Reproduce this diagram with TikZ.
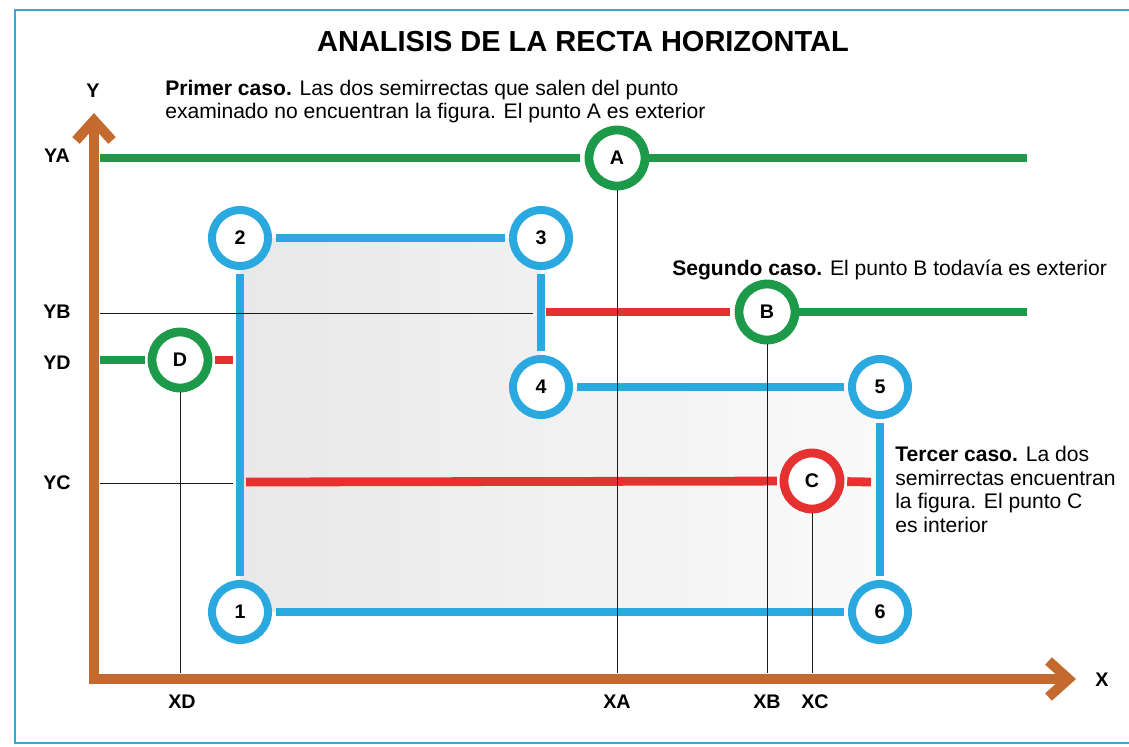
\documentclass[tikz,border=0pt]{standalone}
\usepackage{fontspec}
\setmainfont{Liberation Sans}
\usetikzlibrary{arrows.meta}
\definecolor{ink}{HTML}{1A1A1A}
\definecolor{framec}{HTML}{3AA6DC}
\definecolor{sideblue}{HTML}{2AA8E0}
\definecolor{outgreen}{HTML}{1C9A4A}
\definecolor{inred}{HTML}{E5312F}
\definecolor{axisc}{HTML}{C46A2E}

\begin{document}
\begin{tikzpicture}[x=0.025cm,y=-0.025cm,font=\fontsize{15}{16.6}\selectfont,
  vtx/.style={circle,draw=sideblue,line width=0.2cm,fill=white,minimum size=1.4cm,
              inner sep=0pt,font=\bfseries\fontsize{14}{14}\selectfont},
  ptout/.style={vtx,draw=outgreen,line width=0.22cm},
  ptin/.style={vtx,draw=inred,line width=0.22cm},
  side/.style={draw=sideblue,line width=0.2cm,shorten <=0.1cm,shorten >=0.1cm},
  rayout/.style={draw=outgreen,line width=0.22cm},
  rayin/.style={draw=inred,line width=0.22cm},
  guide/.style={draw=ink,line width=0.6pt},
  lbl/.style={font=\bfseries\fontsize{14}{14}\selectfont},
  axis/.style={draw=axisc,line width=0.25cm,line join=miter,
    {Straight Barb[length=5mm,width=9mm]}-{Straight Barb[length=5mm,width=9mm]}}]
  \useasboundingbox (0,0) rectangle (1129,746);
  \draw[framec,line width=1.2pt] (1129,10) -- (15,10) -- (15,743) -- (1129,743);

  \node[font=\bfseries\fontsize{20.6}{20.6}\selectfont] (title) at (583,42) {ANALISIS DE LA RECTA HORIZONTAL};

  % figure corners
  \coordinate (p1) at (240,612);
  \coordinate (p2) at (240,238);
  \coordinate (p3) at (541,238);
  \coordinate (p4) at (541,387);
  \coordinate (p5) at (880,387);
  \coordinate (p6) at (880,612);
  \shade[left color=black!9,right color=black!2] (p1) -- (p2) -- (p3) -- (p4) -- (p5) -- (p6) -- cycle;

  % axes
  \coordinate (o) at (94,679);
  \coordinate (ytip) at (94,113);
  \coordinate (xtip) at (1076,679);
  \draw[axis] (ytip) -- (o) -- (xtip);
  \node[lbl] (ylab) at (93,91) {Y};
  \node[lbl] (xlab) at (1102,680) {X};

  % the figure
  \foreach \i in {1,...,6}{
     \node[vtx] (v\i) at (p\i) {\i};
  }
  \draw[side] (v1) -- (v2);
  \draw[side] (v2) -- (v3);
  \draw[side] (v3) -- (v4);
  \draw[side] (v4) -- (v5);
  \draw[side] (v5) -- (v6);
  \draw[side] (v6) -- (v1);

  % examined points
  \node[ptout] (A) at (617,158) {A};
  \node[ptout] (B) at (767,312) {B};
  \node[ptin]  (C) at (812,481) {C};
  \node[ptout] (D) at (180,360) {D};

  \coordinate (a0) at (100,158);  \coordinate (a1) at (1027,158);
  \draw[rayout,shorten >=3pt] (a0) -- (A);
  \draw[rayout] (A) -- (a1);
  \coordinate (b0) at (546,312);  \coordinate (b1) at (1027,312);
  \draw[rayin,shorten >=3pt] (b0) -- (B);
  \draw[rayout] (B) -- (b1);
  \coordinate (c0) at (246,482);  \coordinate (c1) at (871,482);
  \draw[rayin,shorten >=2pt] (c0) -- (C);
  \draw[rayin,shorten <=2pt] (C) -- (c1);
  \coordinate (d0) at (100,360);  \coordinate (d1) at (233,360);
  \draw[rayout,shorten >=2pt] (d0) -- (D);
  \draw[rayin,shorten <=2pt] (D) -- (d1);

  % coordinates of the points
  \node[lbl] (ya) at (57,156) {YA};
  \node[lbl] (yb) at (57,312) {YB};
  \node[lbl] (yd) at (57,363) {YD};
  \node[lbl] (yc) at (57,483) {YC};
  \node[lbl] (xd) at (182,702) {XD};
  \node[lbl] (xa) at (617,702) {XA};
  \node[lbl] (xb) at (767,702) {XB};
  \node[lbl] (xc) at (815,702) {XC};
  \coordinate (gb0) at (100,313);  \coordinate (gb1) at (533,313);
  \coordinate (gc0) at (100,483);  \coordinate (gc1) at (233,483);
  \draw[guide] (gb0) -- (gb1);
  \draw[guide] (gc0) -- (gc1);
  \foreach \p/\x in {A/617,B/767,C/812,D/180}{
     \coordinate (f\p) at (\x,673);
     \draw[guide] (\p) -- (f\p);
  }

  % the three cases (base = last line)
  \node[anchor=base west,align=left,inner sep=0pt] (cas1) at (165,118.5)
   {\textbf{Primer caso.} Las dos semirrectas que salen del punto\\
    examinado no encuentran la figura. El punto A es exterior};
  \node[anchor=base west,inner sep=0pt] (cas2) at (672,275)
   {\textbf{Segundo caso.} El punto B todavía es exterior};
  \node[anchor=base west,align=left,inner sep=0pt] (cas3) at (895,532)
   {\textbf{Tercer caso.} La dos\\semirrectas encuentran\\la figura. El punto C\\es interior};
\end{tikzpicture}
\end{document}
